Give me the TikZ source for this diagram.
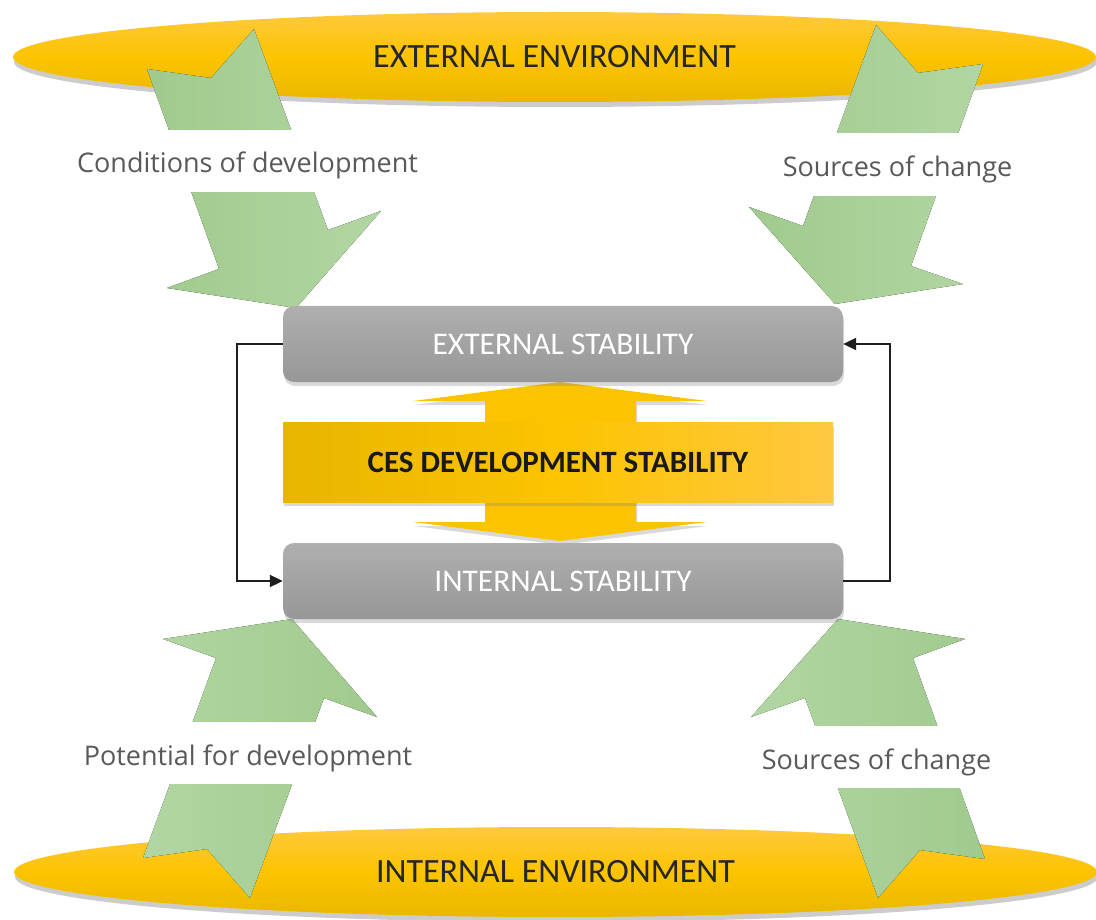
\documentclass[tikz,border=0pt]{standalone}
\usepackage{fontspec}
\setmainfont{Carlito}
\newfontfamily\labfont{Open Sans}
\usetikzlibrary{shapes.geometric,shadows,arrows.meta}
\definecolor{ytop}{HTML}{FFC93E}
\definecolor{ymid}{HTML}{FCC400}
\definecolor{ybot}{HTML}{EAB700}
\definecolor{yleft}{HTML}{E8B500}
\definecolor{yright}{HTML}{FFC841}
\definecolor{gdark}{HTML}{A0CA8D}
\definecolor{glight}{HTML}{B2D6A3}
\definecolor{boxtop}{HTML}{AFAFAF}
\definecolor{boxbot}{HTML}{979797}
\definecolor{labgray}{HTML}{595959}
\definecolor{linecol}{HTML}{1E1E1E}
\tikzset{
  envell/.style={ellipse, inner sep=0pt, minimum width=1083pt, minimum height=90pt,
    top color=ytop, bottom color=ybot, middle color=ymid,
    drop shadow={shadow xshift=1pt, shadow yshift=-5pt, opacity=0.4},
    font=\fontsize{34}{39}\selectfont, text=black!85},
  stabbox/.style={rectangle, rounded corners=11pt, minimum width=560pt, minimum height=76pt,
    top color=boxtop, bottom color=boxbot,
    drop shadow={shadow xshift=1pt, shadow yshift=-4pt, opacity=0.3},
    font=\fontsize{31.5}{36}\selectfont, text=white},
  cesbox/.style={rectangle, minimum width=550pt, minimum height=80pt,
    left color=yleft, right color=yright, middle color=ymid,
    drop shadow={shadow xshift=1pt, shadow yshift=-4pt, opacity=0.3},
    font=\fontsize{31}{36}\selectfont\bfseries, text=black!90},
  lab/.style={fill=white, inner xsep=4pt, inner ysep=0pt, text=labgray,
    text height=30pt, text depth=6pt,
    font=\labfont\fontsize{27}{31}\selectfont},
  garrowtop/.style={left color=gdark, right color=glight},
  garrowbot/.style={left color=glight, right color=gdark},
  yarrow/.style={fill=ymid, drop shadow={shadow xshift=1pt, shadow yshift=-4pt, opacity=0.3}},
  loopline/.style={draw=linecol, line width=2pt, -{Triangle[length=13pt,width=12pt]}}
}
\begin{document}
\begin{tikzpicture}[x=1pt,y=-1pt]
\useasboundingbox (0,0) rectangle (1096,920);
% environments
\node[envell] (extenv) at (554.5,57) {EXTERNAL ENVIRONMENT};
\node[envell] (intenv) at (555.5,872) {INTERNAL ENVIRONMENT};
% green arrows
\fill[garrowtop] (147,69) -- (211,78) -- (254,29) -- (328,230) -- (381,211) -- (296,308)
  -- (167,288) -- (219,269) -- cycle;
\fill[garrowtop] (876,25) -- (918,73) -- (983,64) -- (911,266) -- (963,284) -- (835,304)
  -- (749,207) -- (803,226) -- cycle;
\fill[garrowbot] (292,619) -- (377,717) -- (324,698) -- (250,898) -- (207,849) -- (143,858)
  -- (216,658) -- (163,639) -- cycle;
\fill[garrowbot] (838,619) -- (965,639) -- (913,658) -- (985,859) -- (920,850) -- (878,898)
  -- (805,698) -- (751,717) -- cycle;
% labels
\node[lab, minimum height=62pt] (cond) at (247.5,161) {Conditions of development};
\node[lab, minimum height=63pt] (srcA) at (897.5,164.5) {Sources of change};
\node[lab, minimum height=62pt] (pot) at (248,753) {Potential for development};
\node[lab, minimum height=62pt] (srcB) at (876.5,757) {Sources of change};
% central double arrow
\fill[yarrow] (560,382) -- (707,401) -- (636,401) -- (636,522) -- (707,522) -- (560,541)
  -- (413,522) -- (485,522) -- (485,401) -- (413,401) -- cycle;
% boxes
\node[stabbox] (ext) at (563,344) {EXTERNAL STABILITY};
\node[stabbox] (int) at (563,581) {INTERNAL STABILITY};
\node[cesbox] (ces) at (558,462) {CES DEVELOPMENT STABILITY};
% loop connectors
\draw[loopline] (ext.west) -- ++(-46,0) |- (int.west);
\draw[loopline] (int.east) -- ++(47,0) |- (ext.east);
\end{tikzpicture}
\end{document}
